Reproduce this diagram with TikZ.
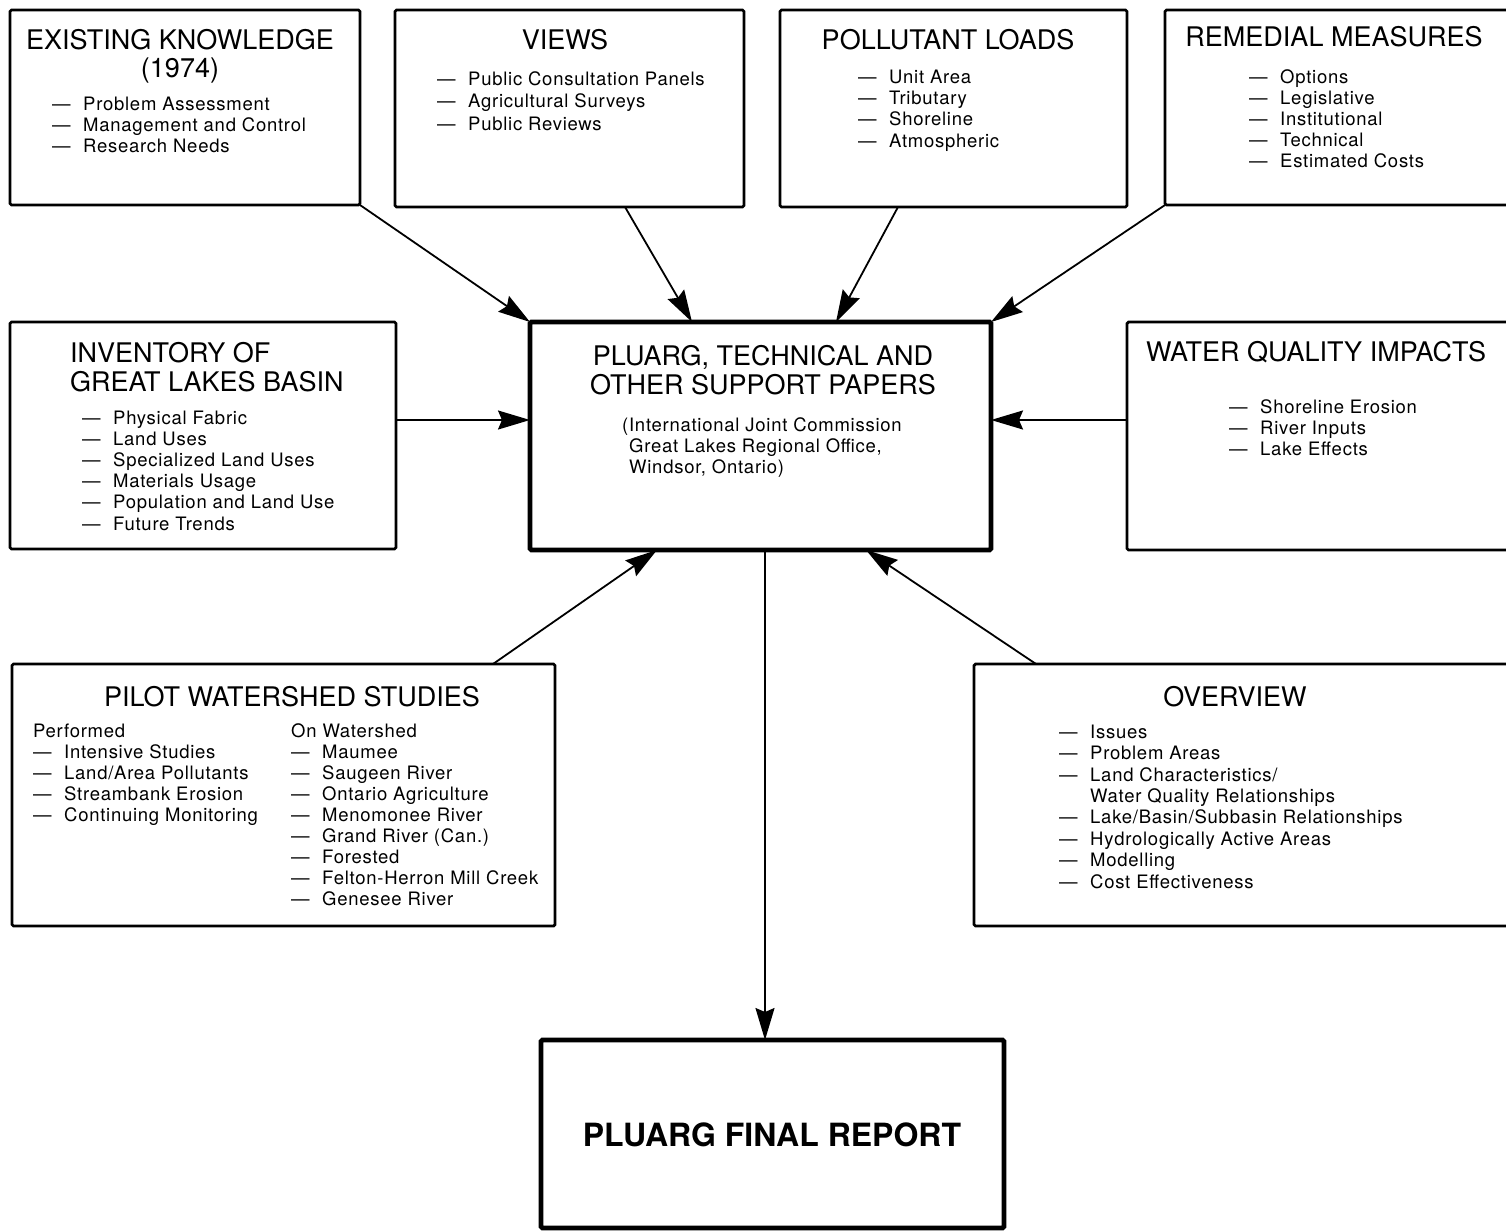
\documentclass[tikz,border=0pt]{standalone}
\usepackage{fontspec}
\setmainfont{TeX Gyre Heros}
\newfontfamily\bodyfont[LetterSpace=4]{TeX Gyre Heros}
\usetikzlibrary{arrows.meta}
\newcommand{\itm}[1]{\makebox[31pt][l]{—}#1}
\begin{document}
\begin{tikzpicture}[x=1pt,y=-1pt,
  box/.style={draw,line width=2.8pt,anchor=north west,inner sep=0pt,outer sep=0pt,rounded corners=1.5pt},
  mainbox/.style={draw,line width=4.8pt,anchor=north west,inner sep=0pt,outer sep=0pt,rounded corners=1.5pt},
  ttl/.style={font=\fontsize{27}{28}\selectfont,align=center,inner sep=0pt,anchor=base},
  lst/.style={font=\bodyfont\fontsize{18.5}{21.2}\selectfont,align=left,inner sep=0pt,anchor=base west},
  arr/.style={line width=1.8pt,-{Stealth[length=32pt,width=19pt,inset=4pt]}}]
\useasboundingbox (0,0) rectangle (1506,1231);
\clip (0,0) rectangle (1506,1231);

% boxes
\node[box,minimum width=350,minimum height=195] (ek) at (10,10) {};
\node[box,minimum width=349,minimum height=197] (views) at (395,10) {};
\node[box,minimum width=347,minimum height=197] (poll) at (780,10) {};
\node[box,minimum width=360,minimum height=195] (rem) at (1165,10) {};
\node[box,minimum width=386,minimum height=227] (inv) at (10,322) {};
\node[mainbox,minimum width=461,minimum height=228] (c) at (530,322) {};
\node[box,minimum width=400,minimum height=228] (wq) at (1127,322) {};
\node[box,minimum width=543,minimum height=262] (pilot) at (12,664) {};
\node[box,minimum width=560,minimum height=262] (ov) at (974,664) {};
\node[mainbox,minimum width=463,minimum height=188] (fin) at (541,1040) {};

% texts (multi-line nodes: base = baseline of the last line)
\node[ttl] (ekt) at (180,77.5) {EXISTING KNOWLEDGE\\(1974)};
\node[lst,font=\bodyfont\fontsize{18.5}{21}\selectfont] (ekl) at (52,152) {\itm{Problem Assessment}\\\itm{Management and Control}\\\itm{Research Needs}};

\node[ttl] (viewst) at (565,49.5) {VIEWS};
\node[lst,font=\bodyfont\fontsize{18.5}{22.5}\selectfont] (viewsl) at (437,130) {\itm{Public Consultation Panels}\\\itm{Agricultural Surveys}\\\itm{Public Reviews}};

\node[ttl] (pollt) at (948,49.5) {POLLUTANT LOADS};
\node[lst,font=\bodyfont\fontsize{18.5}{21.3}\selectfont] (polll) at (858,147) {\itm{Unit Area}\\\itm{Tributary}\\\itm{Shoreline}\\\itm{Atmospheric}};

\node[ttl] (remt) at (1334,46.5) {REMEDIAL MEASURES};
\node[lst,font=\bodyfont\fontsize{18.5}{21}\selectfont] (reml) at (1249,167) {\itm{Options}\\\itm{Legislative}\\\itm{Institutional}\\\itm{Technical}\\\itm{Estimated Costs}};

\node[ttl,anchor=base west,align=left,font=\fontsize{27}{29}\selectfont] (invt) at (70,391.5) {INVENTORY OF\\GREAT LAKES BASIN};
\node[lst] (invl) at (82,530) {\itm{Physical Fabric}\\\itm{Land Uses}\\\itm{Specialized Land Uses}\\\itm{Materials Usage}\\\itm{Population and Land Use}\\\itm{Future Trends}};

\node[ttl,font=\fontsize{27}{29}\selectfont] (ct) at (763,394.5) {PLUARG, TECHNICAL AND\\OTHER SUPPORT PAPERS};
\node[lst,font=\bodyfont\fontsize{18.5}{21}\selectfont] (cs) at (622,473) {(International Joint Commission\\\hspace*{7pt}Great Lakes Regional Office,\\\hspace*{7pt}Windsor, Ontario)};

\node[ttl] (wqt) at (1316,361.5) {WATER QUALITY IMPACTS};
\node[lst,font=\bodyfont\fontsize{18.5}{21}\selectfont] (wql) at (1229,455) {\itm{Shoreline Erosion}\\\itm{River Inputs}\\\itm{Lake Effects}};

\node[ttl] (pilott) at (292,706.5) {PILOT WATERSHED STUDIES};
\node[lst,font=\bodyfont\fontsize{18.5}{21}\selectfont] (pilota) at (33,821) {Performed\\\itm{Intensive Studies}\\\itm{Land/Area Pollutants}\\\itm{Streambank Erosion}\\\itm{Continuing Monitoring}};
\node[lst,font=\bodyfont\fontsize{18.5}{21}\selectfont] (pilotb) at (291,905) {On Watershed\\\itm{Maumee}\\\itm{Saugeen River}\\\itm{Ontario Agriculture}\\\itm{Menomonee River}\\\itm{Grand River (Can.)}\\\itm{Forested}\\\itm{Felton-Herron Mill Creek}\\\itm{Genesee River}};

\node[ttl] (ovt) at (1235,706.5) {OVERVIEW};
\node[lst,font=\bodyfont\fontsize{18.5}{21.4}\selectfont] (ovl) at (1059,888) {\itm{Issues}\\\itm{Problem Areas}\\\itm{Land Characteristics/}\\\hspace*{31pt}Water Quality Relationships\\\itm{Lake/Basin/Subbasin Relationships}\\\itm{Hydrologically Active Areas}\\\itm{Modelling}\\\itm{Cost Effectiveness}};

\node[font=\fontsize{32}{32}\selectfont\bfseries,inner sep=0pt] (fint) at (772,1135) {PLUARG FINAL REPORT};

% connectors
\draw[arr] (ek.south east) -- (c.north west);
\draw[arr] ([xshift=55.5pt]views.south) -- ([xshift=-68.5pt]c.north);
\draw[arr] ([xshift=-55.5pt]poll.south) -- ([xshift=75.5pt]c.north);
\draw[arr] (rem.south west) -- (c.north east);
\draw[arr] ([yshift=15.5pt]inv.east) -- ([yshift=16pt]c.west);
\draw[arr] ([yshift=16pt]wq.west) -- ([yshift=16pt]c.east);
\draw[arr] ([xshift=-62pt]pilot.north east) -- ([xshift=-103.5pt]c.south);
\draw[arr] ([xshift=62pt]ov.north west) -- ([xshift=105.5pt]c.south);
\draw[arr] ([xshift=4.5pt]c.south) -- ([xshift=-7.5pt]fin.north);
\end{tikzpicture}
\end{document}
